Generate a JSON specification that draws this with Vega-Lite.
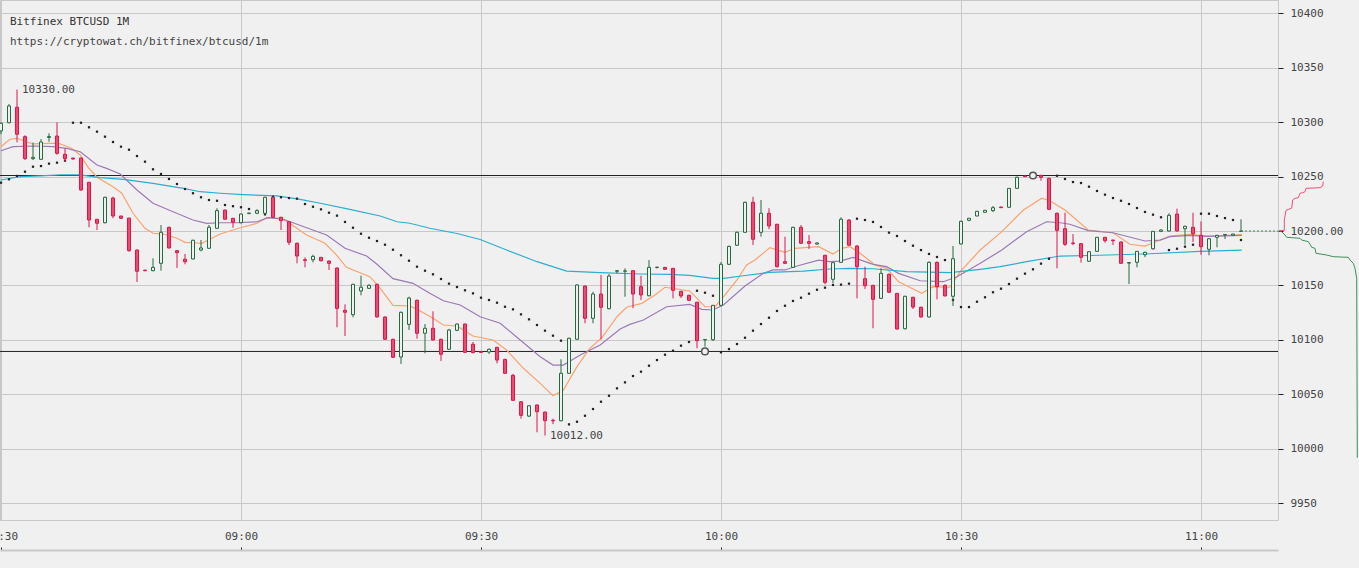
{
  "$schema": "https://vega.github.io/schema/vega-lite/v6.json",
  "autosize": {"type": "none"},
  "width": 1278,
  "height": 520,
  "padding": {"left": 0, "top": 0, "right": 81, "bottom": 48},
  "background": "#f0f0f0",
  "config": {
    "view": {"stroke": "#c8c8c8", "strokeWidth": 1},
    "axis": {"labelFont": "DejaVu Sans Mono", "labelFontSize": 11, "labelColor": "#444"}
  },
  "title": {
    "text": "Bitfinex BTCUSD 1M",
    "subtitle": "https://cryptowat.ch/bitfinex/btcusd/1m",
    "anchor": "start",
    "frame": "group",
    "orient": "top",
    "offset": -47,
    "dx": 10,
    "font": "DejaVu Sans Mono",
    "fontSize": 11,
    "fontWeight": "normal",
    "color": "#333",
    "subtitleFont": "DejaVu Sans Mono",
    "subtitleFontSize": 11,
    "subtitleColor": "#444",
    "subtitlePadding": 9
  },
  "datasets": {
    "candles": [
      {"m":0,"o":10292,"h":10300,"l":10289,"c":10299,"sar":10244.4},
      {"m":1,"o":10299.5,"h":10316.7,"l":10299,"c":10314.9,"sar":10247.5},
      {"m":2,"o":10313.7,"h":10330,"l":10281.5,"c":10288.9,"sar":10250.6},
      {"m":3,"o":10286.7,"h":10288,"l":10265.3,"c":10266.5,"sar":10254.5},
      {"m":4,"o":10266.5,"h":10281.2,"l":10265.3,"c":10267.7,"sar":10259.1},
      {"m":5,"o":10265.9,"h":10284.5,"l":10265.3,"c":10281.8,"sar":10259.7},
      {"m":6,"o":10286,"h":10289.8,"l":10282.1,"c":10286.8,"sar":10261.9},
      {"m":7,"o":10287.3,"h":10299.9,"l":10270.1,"c":10271.4,"sar":10262.8},
      {"m":8,"o":10270.5,"h":10276,"l":10263.7,"c":10266.5,"sar":10264.6},
      {"m":9,"o":10267,"h":10267.4,"l":10265.5,"c":10266.2,"sar":10299.5},
      {"m":10,"o":10267.1,"h":10267.5,"l":10237,"c":10237.7,"sar":10299.5},
      {"m":11,"o":10244.8,"h":10245,"l":10203.4,"c":10210.1,"sar":10295.3},
      {"m":12,"o":10210.8,"h":10211,"l":10200.9,"c":10207.1,"sar":10291.3},
      {"m":13,"o":10207.6,"h":10231.5,"l":10207,"c":10231,"sar":10286.7},
      {"m":14,"o":10230.3,"h":10231.5,"l":10211.7,"c":10213.8,"sar":10281.8},
      {"m":15,"o":10213.8,"h":10214,"l":10211,"c":10211.7,"sar":10277.5},
      {"m":16,"o":10211.9,"h":10212,"l":10181,"c":10181.9,"sar":10274.7},
      {"m":17,"o":10182.5,"h":10183,"l":10153.1,"c":10163,"sar":10268.9},
      {"m":18,"o":10164,"h":10164.5,"l":10163,"c":10163.5,"sar":10263.7},
      {"m":19,"o":10163.5,"h":10174.9,"l":10163,"c":10166.6,"sar":10256.7},
      {"m":20,"o":10170.3,"h":10205.5,"l":10163.5,"c":10198.8,"sar":10252.4},
      {"m":21,"o":10203.4,"h":10204,"l":10184,"c":10184.4,"sar":10247.8},
      {"m":22,"o":10181.9,"h":10182.5,"l":10166,"c":10180.1,"sar":10243.2},
      {"m":23,"o":10174,"h":10178.9,"l":10169.4,"c":10171.8,"sar":10238.6},
      {"m":24,"o":10174.3,"h":10192,"l":10174,"c":10191.5,"sar":10234.7},
      {"m":25,"o":10182.5,"h":10191.7,"l":10181.3,"c":10184.4,"sar":10231},
      {"m":26,"o":10184.1,"h":10205.5,"l":10184,"c":10203.4,"sar":10228.5},
      {"m":27,"o":10202.5,"h":10220.9,"l":10202,"c":10218.7,"sar":10227.8},
      {"m":28,"o":10219.3,"h":10219.5,"l":10210.5,"c":10210.8,"sar":10223.9},
      {"m":29,"o":10211.7,"h":10212,"l":10203,"c":10208,"sar":10222.8},
      {"m":30,"o":10207.6,"h":10216,"l":10207,"c":10215.6,"sar":10221.8},
      {"m":31,"o":10216,"h":10216.8,"l":10215.5,"c":10216.5,"sar":10220.2},
      {"m":32,"o":10216.3,"h":10220,"l":10215.5,"c":10218.7,"sar":10217.9},
      {"m":33,"o":10216.3,"h":10231.5,"l":10216,"c":10231,"sar":10215.3},
      {"m":34,"o":10231,"h":10231.5,"l":10212,"c":10212.6,"sar":10231.5},
      {"m":35,"o":10212.6,"h":10213,"l":10200.9,"c":10209.5,"sar":10231},
      {"m":36,"o":10208.5,"h":10209,"l":10187.1,"c":10189.6,"sar":10230.3},
      {"m":37,"o":10188.7,"h":10189.5,"l":10170.3,"c":10177,"sar":10229.7},
      {"m":38,"o":10173.6,"h":10175.8,"l":10166.6,"c":10173,"sar":10224.8},
      {"m":39,"o":10173.6,"h":10178.2,"l":10171.2,"c":10176.7,"sar":10222.3},
      {"m":40,"o":10175.8,"h":10176,"l":10172,"c":10172.7,"sar":10219.9},
      {"m":41,"o":10172.4,"h":10173,"l":10164.2,"c":10170.3,"sar":10216.8},
      {"m":42,"o":10166,"h":10166.5,"l":10111.5,"c":10128.9,"sar":10214.1},
      {"m":43,"o":10127.1,"h":10132.6,"l":10103.5,"c":10125.3,"sar":10208.3},
      {"m":44,"o":10123.1,"h":10151.5,"l":10120.7,"c":10151,"sar":10203},
      {"m":45,"o":10144.9,"h":10158.9,"l":10140.9,"c":10148.3,"sar":10197.5},
      {"m":46,"o":10147.3,"h":10151,"l":10147,"c":10150.1,"sar":10193.8},
      {"m":47,"o":10151,"h":10151.5,"l":10120.5,"c":10121,"sar":10190.8},
      {"m":48,"o":10121,"h":10121.5,"l":10100,"c":10100.5,"sar":10187.4},
      {"m":49,"o":10100.5,"h":10101,"l":10083.5,"c":10083.9,"sar":10182.8},
      {"m":50,"o":10084.2,"h":10126,"l":10077.8,"c":10125.3,"sar":10177.7},
      {"m":51,"o":10114.2,"h":10139.6,"l":10109,"c":10138.4,"sar":10172.7},
      {"m":52,"o":10136.3,"h":10137,"l":10101,"c":10106,"sar":10167.2},
      {"m":53,"o":10106,"h":10114.5,"l":10087.6,"c":10110.6,"sar":10163.5},
      {"m":54,"o":10110.6,"h":10126.2,"l":10099.5,"c":10099.8,"sar":10160.2},
      {"m":55,"o":10100.5,"h":10101,"l":10080.5,"c":10086.7,"sar":10155.9},
      {"m":56,"o":10091.3,"h":10110,"l":10091,"c":10109,"sar":10151.6},
      {"m":57,"o":10108.7,"h":10115,"l":10108,"c":10114.5,"sar":10148.5},
      {"m":58,"o":10114.5,"h":10115,"l":10088,"c":10088.5,"sar":10145.5},
      {"m":59,"o":10095.9,"h":10098,"l":10087.5,"c":10088.2,"sar":10142.7},
      {"m":60,"o":10089,"h":10089.2,"l":10088,"c":10088.5,"sar":10138.7},
      {"m":61,"o":10088.8,"h":10092,"l":10087,"c":10091.3,"sar":10136.6},
      {"m":62,"o":10093.1,"h":10093.5,"l":10078.4,"c":10081.4,"sar":10134.1},
      {"m":63,"o":10082,"h":10082.5,"l":10069,"c":10069.2,"sar":10130.4},
      {"m":64,"o":10067.4,"h":10068.6,"l":10044,"c":10044.4,"sar":10128},
      {"m":65,"o":10043.1,"h":10043.5,"l":10027.5,"c":10030.6,"sar":10123.4},
      {"m":66,"o":10029.9,"h":10040,"l":10029,"c":10039.4,"sar":10118.8},
      {"m":67,"o":10040.1,"h":10040.5,"l":10015,"c":10033.9,"sar":10113.6},
      {"m":68,"o":10033.6,"h":10034,"l":10012,"c":10025.7,"sar":10108.4},
      {"m":69,"o":10026,"h":10027.5,"l":10022.5,"c":10025.5,"sar":10103.8},
      {"m":70,"o":10025.6,"h":10082.1,"l":10025,"c":10069.2,"sar":10099.2},
      {"m":71,"o":10069.2,"h":10102,"l":10069,"c":10101.4,"sar":10022.3},
      {"m":72,"o":10100.5,"h":10151,"l":10100,"c":10150.4,"sar":10024.7},
      {"m":73,"o":10149.4,"h":10150,"l":10115.2,"c":10119.8,"sar":10030.2},
      {"m":74,"o":10119.8,"h":10144.2,"l":10115.2,"c":10142.1,"sar":10036.4},
      {"m":75,"o":10142.1,"h":10159.6,"l":10100.5,"c":10129.9,"sar":10043.1},
      {"m":76,"o":10128.6,"h":10160.5,"l":10128,"c":10158.6,"sar":10048.6},
      {"m":77,"o":10163,"h":10164.2,"l":10161,"c":10163.5,"sar":10055.4},
      {"m":78,"o":10163,"h":10165.7,"l":10139.6,"c":10163.3,"sar":10060.9},
      {"m":79,"o":10163.5,"h":10164,"l":10129,"c":10142.1,"sar":10066.7},
      {"m":80,"o":10148.8,"h":10158.9,"l":10136.6,"c":10141.2,"sar":10070.7},
      {"m":81,"o":10140.5,"h":10173.3,"l":10140,"c":10166.6,"sar":10076.2},
      {"m":82,"o":10166.5,"h":10167,"l":10165.5,"c":10166.8,"sar":10081.4},
      {"m":83,"o":10166.6,"h":10167,"l":10164.5,"c":10164.8,"sar":10086.3},
      {"m":84,"o":10165.7,"h":10166,"l":10138.1,"c":10145.5,"sar":10090},
      {"m":85,"o":10144.6,"h":10145,"l":10138.5,"c":10140.3,"sar":10094.6},
      {"m":86,"o":10140.9,"h":10141.5,"l":10136,"c":10136.3,"sar":10098},
      {"m":87,"o":10134.5,"h":10135,"l":10092.2,"c":10099.2,"sar":10145.1},
      {"m":88,"o":10100,"h":10100.5,"l":10093.7,"c":10100.3,"sar":10143.3},
      {"m":89,"o":10100.1,"h":10132,"l":10098.9,"c":10131.7,"sar":10140.5},
      {"m":90,"o":10131.7,"h":10171.5,"l":10131,"c":10169.4,"sar":10088.5},
      {"m":91,"o":10169.4,"h":10186.5,"l":10169,"c":10185.9,"sar":10091.5},
      {"m":92,"o":10186.9,"h":10199.5,"l":10186.5,"c":10198.8,"sar":10096.1},
      {"m":93,"o":10198.8,"h":10227,"l":10198.5,"c":10226.4,"sar":10101.9},
      {"m":94,"o":10226.4,"h":10231.5,"l":10187.1,"c":10192.4,"sar":10108.4},
      {"m":95,"o":10198.8,"h":10228.5,"l":10194.8,"c":10216.3,"sar":10114.5},
      {"m":96,"o":10216.3,"h":10220.9,"l":10201.6,"c":10204.6,"sar":10120.3},
      {"m":97,"o":10206.2,"h":10206.5,"l":10166.5,"c":10167.2,"sar":10126.5},
      {"m":98,"o":10171.8,"h":10194.8,"l":10170,"c":10170.3,"sar":10131.3},
      {"m":99,"o":10166.6,"h":10204,"l":10166,"c":10203.4,"sar":10135.7},
      {"m":100,"o":10203.4,"h":10205.5,"l":10188,"c":10188.7,"sar":10138.7},
      {"m":101,"o":10190.2,"h":10196.3,"l":10183.5,"c":10188.7,"sar":10142.4},
      {"m":102,"o":10188,"h":10189.5,"l":10187.5,"c":10189,"sar":10146},
      {"m":103,"o":10177.7,"h":10178,"l":10151,"c":10152.8,"sar":10147.9},
      {"m":104,"o":10155.6,"h":10171.5,"l":10152,"c":10170.9,"sar":10150.4},
      {"m":105,"o":10171.2,"h":10212.6,"l":10171,"c":10210.8,"sar":10150.7},
      {"m":106,"o":10210.1,"h":10211,"l":10186.5,"c":10186.9,"sar":10151.6},
      {"m":107,"o":10186.2,"h":10187,"l":10138.1,"c":10167.2,"sar":10211.3},
      {"m":108,"o":10156.2,"h":10167.2,"l":10146.7,"c":10149.7,"sar":10210.1},
      {"m":109,"o":10150.1,"h":10150.5,"l":10110.6,"c":10137.2,"sar":10208.3},
      {"m":110,"o":10138.1,"h":10165.7,"l":10137.5,"c":10161.1,"sar":10203.7},
      {"m":111,"o":10160.2,"h":10161,"l":10143,"c":10143.7,"sar":10198.5},
      {"m":112,"o":10142.7,"h":10143,"l":10109.5,"c":10109.9,"sar":10195.4},
      {"m":113,"o":10110.2,"h":10140.5,"l":10109.5,"c":10140,"sar":10190.8},
      {"m":114,"o":10139.1,"h":10139.5,"l":10128.3,"c":10130.1,"sar":10186.5},
      {"m":115,"o":10129.9,"h":10130.5,"l":10120.5,"c":10121,"sar":10182.5},
      {"m":116,"o":10121,"h":10172.1,"l":10120.5,"c":10171.2,"sar":10178.9},
      {"m":117,"o":10171.2,"h":10172,"l":10137.2,"c":10148.8,"sar":10176.1},
      {"m":118,"o":10150.1,"h":10151,"l":10140,"c":10140.3,"sar":10173.3},
      {"m":119,"o":10140,"h":10186.2,"l":10131.1,"c":10174.5,"sar":10136.6},
      {"m":120,"o":10188.1,"h":10209.5,"l":10187.5,"c":10208.9,"sar":10130.1},
      {"m":121,"o":10209.8,"h":10212,"l":10209,"c":10211.7,"sar":10130.1},
      {"m":122,"o":10213.8,"h":10218.5,"l":10213.5,"c":10218.1,"sar":10135},
      {"m":123,"o":10217.2,"h":10219.5,"l":10217,"c":10219,"sar":10139.1},
      {"m":124,"o":10218.7,"h":10223,"l":10217.5,"c":10221.4,"sar":10143.7},
      {"m":125,"o":10222,"h":10222.5,"l":10221,"c":10221.5,"sar":10147},
      {"m":126,"o":10221.8,"h":10239.5,"l":10221.5,"c":10239.2,"sar":10151.3},
      {"m":127,"o":10239.2,"h":10250,"l":10239,"c":10249.4,"sar":10156.2},
      {"m":128,"o":10250.6,"h":10251,"l":10249.8,"c":10250,"sar":10160.8},
      {"m":129,"o":10250,"h":10250.5,"l":10249.5,"c":10250.2,"sar":10164.8},
      {"m":130,"o":10251.2,"h":10251.5,"l":10246.2,"c":10249.4,"sar":10170},
      {"m":131,"o":10248.4,"h":10249,"l":10219.5,"c":10219.9,"sar":10174.5},
      {"m":132,"o":10216.3,"h":10217,"l":10165.7,"c":10200.6,"sar":10250.8},
      {"m":133,"o":10202.1,"h":10216.8,"l":10186.2,"c":10187.8,"sar":10247.8},
      {"m":134,"o":10189,"h":10197.2,"l":10186.9,"c":10188.5,"sar":10245},
      {"m":135,"o":10188.4,"h":10189,"l":10170.9,"c":10175.8,"sar":10244.1},
      {"m":136,"o":10172.2,"h":10181.5,"l":10172,"c":10181,"sar":10240.7},
      {"m":137,"o":10181.3,"h":10194.5,"l":10181,"c":10194.2,"sar":10236.8},
      {"m":138,"o":10194.2,"h":10194.5,"l":10189.2,"c":10191.1,"sar":10233.4},
      {"m":139,"o":10191.7,"h":10192,"l":10187.1,"c":10191.1,"sar":10230.3},
      {"m":140,"o":10189.9,"h":10190.5,"l":10170,"c":10170.3,"sar":10227.8},
      {"m":141,"o":10170.5,"h":10171.5,"l":10151.3,"c":10171,"sar":10224.8},
      {"m":142,"o":10171.2,"h":10181.5,"l":10166.6,"c":10181.3,"sar":10221.1},
      {"m":143,"o":10178.2,"h":10181,"l":10176,"c":10180.4,"sar":10217.5},
      {"m":144,"o":10183.7,"h":10200,"l":10182.8,"c":10199.7,"sar":10215},
      {"m":145,"o":10199.7,"h":10201.5,"l":10199,"c":10200.9,"sar":10212.6},
      {"m":146,"o":10200,"h":10216.3,"l":10199.5,"c":10214.4,"sar":10182.5},
      {"m":147,"o":10215.6,"h":10220.5,"l":10199.5,"c":10200,"sar":10183.7},
      {"m":148,"o":10202.1,"h":10205,"l":10187.4,"c":10204.3,"sar":10185.6},
      {"m":149,"o":10203.4,"h":10216.8,"l":10189.9,"c":10197.5,"sar":10187.4},
      {"m":150,"o":10196,"h":10208.9,"l":10178.2,"c":10185.6,"sar":10215.9},
      {"m":151,"o":10183.2,"h":10193.5,"l":10177.7,"c":10192.9,"sar":10215.9},
      {"m":152,"o":10194.2,"h":10196.5,"l":10185,"c":10196,"sar":10213.8},
      {"m":153,"o":10196.4,"h":10197,"l":10192.6,"c":10196.8,"sar":10211.9},
      {"m":154,"o":10196,"h":10197.5,"l":10195.5,"c":10197.2,"sar":10210.1},
      {"m":155,"o":10199.7,"h":10210.8,"l":10199.5,"c":10200,"sar":10191.7}
    ],
    "ind": [
      {"s":"fast","m":0,"v":10277.5},{"s":"fast","m":1.1,"v":10284.3},{"s":"fast","m":2,"v":10285.2},{"s":"fast","m":4,"v":10280},{"s":"fast","m":6.1,"v":10280.6},{"s":"fast","m":7.2,"v":10280.6},{"s":"fast","m":8.8,"v":10276},{"s":"fast","m":9.9,"v":10269.9},{"s":"fast","m":10.9,"v":10258.5},{"s":"fast","m":12,"v":10249.4},{"s":"fast","m":14,"v":10240.7},{"s":"fast","m":15.1,"v":10234.7},{"s":"fast","m":16.5,"v":10216.3},{"s":"fast","m":18,"v":10202.5},{"s":"fast","m":19,"v":10197.9},{"s":"fast","m":20.3,"v":10197.2},{"s":"fast","m":22,"v":10193.3},{"s":"fast","m":23,"v":10189.6},{"s":"fast","m":24,"v":10189.2},{"s":"fast","m":25.1,"v":10188.7},{"s":"fast","m":25.9,"v":10191.7},{"s":"fast","m":27.4,"v":10197.2},{"s":"fast","m":29.9,"v":10203},{"s":"fast","m":32,"v":10207.1},{"s":"fast","m":33.2,"v":10212.2},{"s":"fast","m":34.9,"v":10211.7},{"s":"fast","m":36.1,"v":10207.1},{"s":"fast","m":38.2,"v":10196.3},{"s":"fast","m":40.5,"v":10188.7},{"s":"fast","m":41.75,"v":10179.5},{"s":"fast","m":43.2,"v":10166.6},{"s":"fast","m":46.1,"v":10158},{"s":"fast","m":47.2,"v":10149.4},{"s":"fast","m":49,"v":10131.7},{"s":"fast","m":51.1,"v":10131.1},{"s":"fast","m":52.4,"v":10126.5},{"s":"fast","m":54,"v":10119.8},{"s":"fast","m":55.3,"v":10113.6},{"s":"fast","m":57,"v":10112.7},{"s":"fast","m":59,"v":10103.5},{"s":"fast","m":61.5,"v":10099.8},{"s":"fast","m":63.2,"v":10090.6},{"s":"fast","m":65.3,"v":10073.8},{"s":"fast","m":67.4,"v":10060},{"s":"fast","m":69,"v":10048.6},{"s":"fast","m":70.3,"v":10053.9},{"s":"fast","m":72,"v":10075.3},{"s":"fast","m":73.6,"v":10092.2},{"s":"fast","m":75.1,"v":10101.9},{"s":"fast","m":77,"v":10121.2},{"s":"fast","m":78.2,"v":10129.9},{"s":"fast","m":80.1,"v":10133.5},{"s":"fast","m":81.75,"v":10141.2},{"s":"fast","m":83,"v":10148.3},{"s":"fast","m":84.5,"v":10146.7},{"s":"fast","m":86.1,"v":10144.9},{"s":"fast","m":88,"v":10130.4},{"s":"fast","m":89.25,"v":10130.4},{"s":"fast","m":90.5,"v":10141.2},{"s":"fast","m":92,"v":10155},{"s":"fast","m":93.2,"v":10168.8},{"s":"fast","m":94.25,"v":10173.3},{"s":"fast","m":96.1,"v":10184.7},{"s":"fast","m":98,"v":10180.4},{"s":"fast","m":99.25,"v":10184.1},{"s":"fast","m":102.2,"v":10185.6},{"s":"fast","m":104,"v":10178.9},{"s":"fast","m":105.1,"v":10184.1},{"s":"fast","m":106.1,"v":10185.6},{"s":"fast","m":107.4,"v":10179.5},{"s":"fast","m":109.25,"v":10168.8},{"s":"fast","m":110.7,"v":10165.7},{"s":"fast","m":112.2,"v":10153.4},{"s":"fast","m":115.1,"v":10142.7},{"s":"fast","m":116.5,"v":10148.8},{"s":"fast","m":118.6,"v":10148.3},{"s":"fast","m":119.9,"v":10162.6},{"s":"fast","m":122.4,"v":10182.5},{"s":"fast","m":125.1,"v":10199.4},{"s":"fast","m":127.8,"v":10219.3},{"s":"fast","m":130.1,"v":10230.1},{"s":"fast","m":131.1,"v":10227.8},{"s":"fast","m":133,"v":10219.3},{"s":"fast","m":135.9,"v":10200.9},{"s":"fast","m":139,"v":10198.4},{"s":"fast","m":141.1,"v":10187.8},{"s":"fast","m":143,"v":10186.2},{"s":"fast","m":144.9,"v":10191.7},{"s":"fast","m":146.1,"v":10195.4},{"s":"fast","m":148.6,"v":10197},{"s":"fast","m":150.7,"v":10195.4},{"s":"fast","m":152.8,"v":10195.7},{"s":"fast","m":155.1,"v":10196.6},
      {"s":"slow","m":0,"v":10273.8},{"s":"slow","m":1.5,"v":10277.5},{"s":"slow","m":4,"v":10278.1},{"s":"slow","m":6.5,"v":10277.5},{"s":"slow","m":8.2,"v":10276},{"s":"slow","m":9.9,"v":10272.9},{"s":"slow","m":12,"v":10260.7},{"s":"slow","m":13.2,"v":10257.6},{"s":"slow","m":14.9,"v":10252.4},{"s":"slow","m":17,"v":10237.7},{"s":"slow","m":19,"v":10225.5},{"s":"slow","m":21.5,"v":10217.7},{"s":"slow","m":24,"v":10210.1},{"s":"slow","m":25.7,"v":10207.1},{"s":"slow","m":27.4,"v":10207.6},{"s":"slow","m":29.5,"v":10207.6},{"s":"slow","m":32,"v":10208.5},{"s":"slow","m":33.4,"v":10212.2},{"s":"slow","m":35.3,"v":10210.8},{"s":"slow","m":38.2,"v":10203},{"s":"slow","m":40.7,"v":10196.3},{"s":"slow","m":43,"v":10184.1},{"s":"slow","m":45.7,"v":10177},{"s":"slow","m":47,"v":10169.4},{"s":"slow","m":49,"v":10156.2},{"s":"slow","m":51.5,"v":10151.9},{"s":"slow","m":53.6,"v":10142.7},{"s":"slow","m":55.3,"v":10135.9},{"s":"slow","m":57.4,"v":10132},{"s":"slow","m":59.9,"v":10121.2},{"s":"slow","m":62.4,"v":10115.2},{"s":"slow","m":64.9,"v":10099.8},{"s":"slow","m":67.4,"v":10084.5},{"s":"slow","m":69,"v":10076.8},{"s":"slow","m":70.3,"v":10076.8},{"s":"slow","m":72.4,"v":10086},{"s":"slow","m":74.9,"v":10095.2},{"s":"slow","m":77.4,"v":10109.9},{"s":"slow","m":78.6,"v":10114.2},{"s":"slow","m":80.3,"v":10118.2},{"s":"slow","m":83.2,"v":10130.4},{"s":"slow","m":86.1,"v":10132.6},{"s":"slow","m":87.6,"v":10128},{"s":"slow","m":89,"v":10127.4},{"s":"slow","m":90.3,"v":10132},{"s":"slow","m":93,"v":10149.4},{"s":"slow","m":95.3,"v":10161.1},{"s":"slow","m":96.5,"v":10164.2},{"s":"slow","m":98,"v":10164.2},{"s":"slow","m":99.5,"v":10167.8},{"s":"slow","m":102.2,"v":10173.3},{"s":"slow","m":103.6,"v":10171.8},{"s":"slow","m":104.9,"v":10172.4},{"s":"slow","m":106.5,"v":10175.8},{"s":"slow","m":109,"v":10169.4},{"s":"slow","m":110.7,"v":10167.2},{"s":"slow","m":112.2,"v":10161.1},{"s":"slow","m":114.9,"v":10154.3},{"s":"slow","m":117.8,"v":10153.4},{"s":"slow","m":119.5,"v":10158},{"s":"slow","m":122.4,"v":10170.3},{"s":"slow","m":125.1,"v":10182.5},{"s":"slow","m":128.2,"v":10199.4},{"s":"slow","m":130.7,"v":10208.5},{"s":"slow","m":132.4,"v":10207.6},{"s":"slow","m":133.6,"v":10206.2},{"s":"slow","m":135.9,"v":10200.3},{"s":"slow","m":139,"v":10198.4},{"s":"slow","m":143,"v":10190.8},{"s":"slow","m":144.9,"v":10191.7},{"s":"slow","m":146.1,"v":10194.8},{"s":"slow","m":148.6,"v":10196},{"s":"slow","m":150.7,"v":10195.1},{"s":"slow","m":155.1,"v":10196},
      {"s":"ma","m":0,"v":10246.9},{"s":"ma","m":2.4,"v":10249.9},{"s":"ma","m":4.9,"v":10250.6},{"s":"ma","m":7.4,"v":10251.5},{"s":"ma","m":9.9,"v":10251.5},{"s":"ma","m":12.4,"v":10249},{"s":"ma","m":15.3,"v":10247.5},{"s":"ma","m":19,"v":10243.8},{"s":"ma","m":22.8,"v":10239.2},{"s":"ma","m":24.9,"v":10236.1},{"s":"ma","m":27.4,"v":10234.7},{"s":"ma","m":30.3,"v":10233.4},{"s":"ma","m":34.5,"v":10232.2},{"s":"ma","m":37.4,"v":10229.1},{"s":"ma","m":39.9,"v":10225.5},{"s":"ma","m":43.6,"v":10219.9},{"s":"ma","m":47.4,"v":10213.8},{"s":"ma","m":49.5,"v":10208.5},{"s":"ma","m":51.1,"v":10207.1},{"s":"ma","m":53.6,"v":10202.5},{"s":"ma","m":57,"v":10197.7},{"s":"ma","m":59.9,"v":10192.2},{"s":"ma","m":63.2,"v":10182.5},{"s":"ma","m":67,"v":10171.8},{"s":"ma","m":70.7,"v":10163.2},{"s":"ma","m":74.9,"v":10161.7},{"s":"ma","m":79.9,"v":10160.5},{"s":"ma","m":83.6,"v":10160.2},{"s":"ma","m":86.1,"v":10159.3},{"s":"ma","m":89,"v":10156.5},{"s":"ma","m":90.3,"v":10156.5},{"s":"ma","m":92.8,"v":10158.9},{"s":"ma","m":96.1,"v":10162},{"s":"ma","m":100.3,"v":10163.2},{"s":"ma","m":103.6,"v":10165.1},{"s":"ma","m":106.1,"v":10165.7},{"s":"ma","m":109,"v":10165.3},{"s":"ma","m":113.2,"v":10162.6},{"s":"ma","m":118.6,"v":10161.7},{"s":"ma","m":122.4,"v":10164.8},{"s":"ma","m":124.9,"v":10167.2},{"s":"ma","m":128.2,"v":10171.8},{"s":"ma","m":132.4,"v":10177},{"s":"ma","m":137.4,"v":10177.7},{"s":"ma","m":143.6,"v":10179.1},{"s":"ma","m":149.9,"v":10181.3},{"s":"ma","m":155.1,"v":10182.5}
    ],
    "levels": [
      {"m":129,"price":10251.0},
      {"m":88,"price":10089.3}
    ],
    "notes": [
      {"m":2,"price":10330,"label":"10330.00"},
      {"m":68,"price":10012,"label":"10012.00"}
    ],
    "last": [
      {"m":155,"price":10200}
    ],
    "asks": [
      {"vol":0,"price":10200.3},{"vol":5.3,"price":10200.6},{"vol":5.3,"price":10210},{"vol":7,"price":10219},{"vol":12.7,"price":10221},{"vol":13.7,"price":10228.5},{"vol":16,"price":10230.1},{"vol":19.3,"price":10230.6},{"vol":21,"price":10234.7},{"vol":23.7,"price":10235.2},{"vol":26,"price":10236.1},{"vol":27,"price":10239.2},{"vol":41,"price":10239.8},{"vol":43.7,"price":10241.4},{"vol":44.3,"price":10245.3}
    ],
    "bids": [
      {"vol":0,"price":10200.2},{"vol":2.7,"price":10199.4},{"vol":6,"price":10196.3},{"vol":7.7,"price":10194.2},{"vol":21,"price":10193.3},{"vol":22.7,"price":10191.7},{"vol":29.3,"price":10190.2},{"vol":31,"price":10187.8},{"vol":32.7,"price":10185},{"vol":36,"price":10184.1},{"vol":37,"price":10179.5},{"vol":47.7,"price":10177.9},{"vol":54.3,"price":10176.4},{"vol":69.3,"price":10175.8},{"vol":71,"price":10173.3},{"vol":74.3,"price":10170.3},{"vol":76,"price":10165.7},{"vol":77.7,"price":10156.5},{"vol":78.3,"price":9991.6}
    ]
  },
  "resolve": {"scale": {"x": "independent"}},
  "layer": [
    {
      "layer": [
        {
          "data": {"name": "levels"},
          "mark": {"type": "rule", "color": "#222", "strokeWidth": 1},
          "encoding": {
            "y": {
              "field": "price", "type": "quantitative",
              "scale": {"domain": [9934.4, 10412.3], "nice": false, "zero": false},
              "axis": {
                "orient": "right", "title": null,
                "values": [9950, 10000, 10050, 10100, 10150, 10200, 10250, 10300, 10350, 10400],
                "format": "d",
                "labelExpr": "datum.value == 10200 ? '10200.00' : datum.label",
                "grid": true, "gridColor": "#c8c8c8", "gridWidth": 1,
                "domain": false, "ticks": true, "tickColor": "#222", "tickSize": 5,
                "labelPadding": 7, "labelBaseline": "middle"
              }
            }
          }
        },
        {
          "data": {"name": "ind"},
          "mark": {"type": "line", "strokeWidth": 1.2},
          "encoding": {
            "x": {
              "field": "m", "type": "quantitative",
              "scale": {"domain": [-0.125, 159.625], "nice": false, "zero": false, "padding": 0},
              "axis": {
                "title": null, "values": [0, 30, 60, 90, 120, 150],
                "labelExpr": "timeFormat(datetime(2019, 8, 20, 8, 30 + datum.value), '%H:%M')",
                "offset": 30, "grid": true, "gridColor": "#c8c8c8", "gridWidth": 1,
                "domainColor": "#c8c8c8", "domainWidth": 2,
                "tickColor": "#222", "tickSize": -3,
                "labelPadding": -11, "labelBaseline": "middle",
                "labelFlush": false, "labelOverlap": false
              }
            },
            "y": {"field": "v", "type": "quantitative"},
            "color": {
              "field": "s", "type": "nominal", "legend": null,
              "scale": {"domain": ["ma", "slow", "fast"], "range": ["#2aaed2", "#9b7bb3", "#fba26e"]}
            }
          }
        },
        {
          "data": {"name": "candles"},
          "mark": {"type": "point", "shape": "square", "filled": true, "size": 5, "color": "#222", "opacity": 1},
          "encoding": {
            "x": {"field": "m", "type": "quantitative"},
            "y": {"field": "sar", "type": "quantitative"}
          }
        },
        {
          "data": {"name": "candles"},
          "mark": {"type": "rule", "strokeWidth": 1},
          "encoding": {
            "x": {"field": "m", "type": "quantitative"},
            "y": {"field": "l", "type": "quantitative"},
            "y2": {"field": "h"},
            "color": {"condition": {"test": "datum.c < datum.o", "value": "#e0164a"}, "value": "#236b3e"}
          }
        },
        {
          "data": {"name": "candles"},
          "mark": {"type": "bar", "size": 3, "strokeWidth": 1},
          "encoding": {
            "x": {"field": "m", "type": "quantitative"},
            "y": {"field": "o", "type": "quantitative"},
            "y2": {"field": "c"},
            "fill": {"condition": {"test": "datum.c < datum.o", "value": "#ec4a6e"}, "value": "#f0f0f0"},
            "stroke": {"condition": {"test": "datum.c < datum.o", "value": "#e0164a"}, "value": "#236b3e"}
          }
        },
        {
          "data": {"name": "levels"},
          "mark": {"type": "point", "shape": "circle", "filled": true, "size": 45, "fill": "#f0f0f0", "stroke": "#555", "strokeWidth": 1.5, "opacity": 1},
          "encoding": {
            "x": {"field": "m", "type": "quantitative"},
            "y": {"field": "price", "type": "quantitative"}
          }
        },
        {
          "data": {"name": "notes"},
          "mark": {"type": "text", "align": "left", "baseline": "middle", "dx": 5, "font": "DejaVu Sans Mono", "fontSize": 11, "color": "#444"},
          "encoding": {
            "x": {"field": "m", "type": "quantitative"},
            "y": {"field": "price", "type": "quantitative"},
            "text": {"field": "label"}
          }
        },
        {
          "data": {"name": "last"},
          "mark": {"type": "rule", "color": "#3d8f5a", "strokeWidth": 1, "strokeDash": [2, 2]},
          "encoding": {
            "x": {"field": "m", "type": "quantitative"},
            "x2": {"datum": 159.625},
            "y": {"field": "price", "type": "quantitative"}
          }
        }
      ]
    },
    {
      "layer": [
        {
          "data": {"name": "asks"},
          "mark": {"type": "line", "color": "#f0507a", "strokeWidth": 1},
          "encoding": {
            "x": {"field": "vol", "type": "quantitative", "axis": null, "scale": {"domain": [0, 80], "range": [1279, 1359], "nice": false, "zero": false}},
            "y": {"field": "price", "type": "quantitative"},
            "order": {"field": "price", "sort": "ascending"}
          }
        },
        {
          "data": {"name": "bids"},
          "mark": {"type": "line", "color": "#3d8f5a", "strokeWidth": 1},
          "encoding": {
            "x": {"field": "vol", "type": "quantitative"},
            "y": {"field": "price", "type": "quantitative"},
            "order": {"field": "price", "sort": "descending"}
          }
        }
      ]
    }
  ]
}
